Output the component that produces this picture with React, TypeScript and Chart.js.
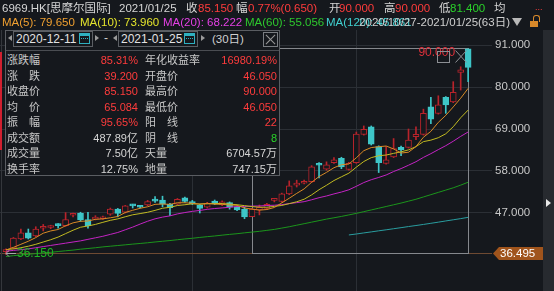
import React, { useEffect, useRef } from 'react';
import { Chart, registerables } from 'chart.js';
Chart.register(...registerables);

// ---------- data ----------
const DATES = [
  '2020-10-27', '2020-10-28', '2020-10-29', '2020-10-30',
  '2020-11-02', '2020-11-03', '2020-11-04', '2020-11-05', '2020-11-06',
  '2020-11-09', '2020-11-10', '2020-11-11', '2020-11-12', '2020-11-13',
  '2020-11-16', '2020-11-17', '2020-11-18', '2020-11-19', '2020-11-20',
  '2020-11-23', '2020-11-24', '2020-11-25', '2020-11-26', '2020-11-27',
  '2020-11-30',
  '2020-12-01', '2020-12-02', '2020-12-03', '2020-12-04',
  '2020-12-07', '2020-12-08', '2020-12-09', '2020-12-10', '2020-12-11',
  '2020-12-14', '2020-12-15', '2020-12-16', '2020-12-17', '2020-12-18',
  '2020-12-21', '2020-12-22', '2020-12-23', '2020-12-24',
  '2020-12-28', '2020-12-29', '2020-12-30', '2020-12-31',
  '2021-01-04', '2021-01-05', '2021-01-06', '2021-01-07', '2021-01-08',
  '2021-01-11', '2021-01-12', '2021-01-13', '2021-01-14', '2021-01-15',
  '2021-01-18', '2021-01-19', '2021-01-20', '2021-01-21', '2021-01-22',
  '2021-01-25',
];

const OPEN = [36.9, 37.8, 40.2, 41.8, 41.0, 43.0, 43.2, 44.0, 43.7, 46.4,
  47.0, 45.3, 45.4, 45.5, 46.7, 48.0, 47.2, 48.95, 48.7, 49.1,
  50.6, 50.4, 49.3, 49.3, 51.0, 50.0, 49.1, 48.5, 50.1, 49.1,
  49.7, 48.6, 48.0, 46.05, 47.8, 48.2, 50.3, 50.0, 52.0, 54.3,
  54.8, 55.2, 59.7, 58.5, 60.2, 61.3, 58.4, 60.2, 67.6, 69.6,
  64.4, 60.0, 61.7, 64.2, 64.2, 67.0, 67.6, 74.8, 73.1, 77.3,
  76.1, 83.8, 90.0];
const CLOSE = [37.4, 40.4, 41.8, 40.4, 42.8, 43.15, 43.35, 43.7, 45.3, 46.6,
  45.2, 43.7, 45.9, 45.9, 48.0, 46.9, 48.9, 48.85, 48.5, 50.0,
  50.1, 49.3, 48.4, 50.6, 50.0, 49.4, 48.2, 49.5, 49.4, 49.9,
  48.5, 47.8, 45.95, 48.0, 48.5, 49.3, 50.45, 52.0, 54.1, 54.8,
  55.2, 59.1, 59.5, 59.6, 60.9, 59.1, 60.0, 67.7, 68.9, 65.0,
  60.2, 60.9, 63.9, 63.5, 66.1, 67.6, 73.1, 71.6, 75.3, 75.3,
  78.6, 84.5, 85.15];
const HIGH = [37.6, 40.6, 42.8, 42.8, 43.4, 44.0, 43.8, 44.2, 47.1, 47.0,
  47.2, 47.2, 46.3, 46.2, 48.3, 48.2, 49.0, 49.3, 49.0, 50.3,
  51.3, 51.4, 49.5, 50.8, 51.2, 50.3, 49.3, 49.8, 50.4, 50.2,
  49.9, 48.8, 48.5, 48.2, 49.1, 49.5, 50.8, 52.2, 55.4, 55.6,
  55.6, 59.4, 60.2, 60.4, 61.5, 61.6, 60.3, 68.2, 69.8, 69.8,
  64.6, 64.4, 66.5, 64.5, 69.0, 69.6, 74.2, 77.3, 77.7, 77.5,
  81.4, 85.3, 90.0];
const LOW = [36.15, 37.6, 40.0, 40.2, 40.8, 42.3, 42.9, 43.0, 43.5, 46.0,
  44.8, 43.0, 45.2, 45.3, 46.4, 46.0, 47.0, 48.3, 48.3, 48.9,
  49.8, 48.6, 46.3, 49.1, 49.8, 49.2, 47.0, 48.3, 49.2, 48.9,
  48.0, 47.6, 45.5, 46.05, 46.5, 48.0, 49.9, 49.8, 51.8, 53.8,
  54.6, 55.0, 56.2, 58.2, 60.0, 58.6, 58.2, 60.0, 67.4, 64.8,
  57.6, 59.8, 61.5, 62.0, 64.0, 66.2, 67.4, 70.4, 72.9, 73.1,
  75.9, 79.2, 81.4];

const MA5 = [37.3, 38.0, 38.8, 39.6, 40.56, 41.71, 42.3, 42.68, 43.66, 44.42,
  44.83, 44.9, 45.34, 45.46, 45.74, 46.08, 47.12, 47.71, 48.23, 48.63,
  49.27, 49.35, 49.26, 49.68, 49.68, 49.54, 49.32, 49.54, 49.3, 49.28,
  49.1, 49.02, 48.31, 48.03, 47.75, 47.91, 48.44, 49.65, 50.87, 52.13,
  53.31, 55.04, 56.54, 57.64, 58.86, 59.64, 59.82, 61.46, 63.32, 64.14,
  64.36, 64.54, 63.78, 62.7, 62.92, 64.4, 66.84, 68.38, 70.74, 72.58,
  74.78, 77.06, 79.65];
const MA10 = [37.4, 37.6, 37.9, 38.3, 38.8, 39.4, 40.0, 40.7, 41.6, 42.49,
  43.27, 43.6, 44.01, 44.56, 45.08, 45.46, 46.01, 46.53, 46.85, 47.19,
  47.68, 48.24, 48.49, 48.96, 49.16, 49.41, 49.34, 49.4, 49.49, 49.48,
  49.32, 49.17, 48.93, 48.67, 48.52, 48.51, 48.73, 48.98, 49.45, 49.94,
  50.61, 51.74, 53.1, 54.26, 55.5, 56.48, 57.43, 59.0, 60.48, 61.5,
  62.0, 62.18, 62.62, 63.01, 63.53, 64.38, 65.69, 66.08, 66.72, 67.75,
  69.59, 71.95, 73.96];
const MA20 = [37.0, 37.2, 37.4, 37.6, 37.9, 38.2, 38.5, 38.8, 39.1, 39.4,
  39.7, 40.1, 40.5, 40.9, 41.4, 41.9, 42.6, 43.3, 44.1, 44.84,
  45.47, 45.92, 46.25, 46.76, 47.12, 47.43, 47.67, 47.96, 48.17, 48.33,
  48.5, 48.7, 48.71, 48.81, 48.84, 48.96, 49.03, 49.19, 49.47, 49.71,
  49.97, 50.46, 51.01, 51.46, 52.0, 52.49, 53.08, 53.99, 54.97, 55.72,
  56.31, 56.96, 57.86, 58.63, 59.51, 60.43, 61.56, 62.54, 63.6, 64.63,
  65.8, 67.07, 68.22];
const MA60 = [35.6, 35.82, 36.0, 36.18, 36.35, 36.52, 36.7, 36.91, 37.1, 37.28,
  37.52, 37.7, 37.9, 38.12, 38.3, 38.48, 38.66, 38.85, 39.02, 39.2,
  39.41, 39.6, 39.78, 40.0, 40.2, 40.38, 40.6, 40.8, 40.98, 41.2,
  41.4, 41.58, 41.8, 42.0, 42.2, 42.45, 42.7, 43.05, 43.4, 43.8,
  44.2, 44.6, 45.0, 45.4, 45.75, 46.1, 46.5, 46.9, 47.35, 47.8,
  48.25, 48.7, 49.15, 49.6, 50.1, 50.6, 51.2, 51.8, 52.4, 53.0,
  53.6, 54.3, 55.06];
const MA120_START = '2020-12-31';
const MA120 = [41.25, 41.5, 41.78, 42.05, 42.33, 42.6, 42.88, 43.16, 43.45,
  43.72, 44.0, 44.3, 44.6, 44.92, 45.22, 45.53, 45.86];

const Y_TICKS = [47, 58, 69, 80, 91];
const MONTH_STARTS = ['2020-12-01', '2021-01-04'];
const REF_PRICE = 36.495;
const RANGE_START = '2020-12-11';
const RANGE_END = '2021-01-25';

// ---------- styles ----------
const BG = '#15181d';
const GRID = '#2b2f35';
const UP = '#b8232b';
const DOWN = '#3ec6c8';
const TXT = '#d6d6d6';
const RED = '#ff3c3c';
const GREEN = '#2ad22a';
const FONT = '"Liberation Sans", "Noto Sans CJK SC", sans-serif';

const STATS: [string, string, string, string, string, string][] = [
  ['涨跌幅', '85.31%', RED, '年化收益率', '16980.19%', RED],
  ['涨\u3000跌', '39.200', RED, '开盘价', '46.050', RED],
  ['收盘价', '85.150', RED, '最高价', '90.000', RED],
  ['均\u3000价', '65.084', RED, '最低价', '46.050', RED],
  ['振\u3000幅', '95.65%', RED, '阳\u3000线', '22', RED],
  ['成交额', '487.89亿', TXT, '阴\u3000线', '8', GREEN],
  ['成交量', '7.50亿', TXT, '天量', '6704.57万', TXT],
  ['换手率', '12.75%', TXT, '地量', '747.15万', TXT],
];

function T(p: { x: number; y: number; c: string; s?: number; r?: boolean; children: any }) {
  const size = p.s ?? 11.5;
  const st: any = {
    position: 'absolute', top: p.y - 8, height: 16, lineHeight: '16px',
    fontSize: size, color: p.c, whiteSpace: 'pre', fontFamily: FONT,
  };
  if (p.r) { st.left = p.x - 200; st.width = 200; st.textAlign = 'right'; } else st.left = p.x;
  return <div style={st}>{p.children}</div>;
}

const overlayPlugin = {
  id: 'overlay',
  beforeDatasetsDraw(chart: any) {
    const { ctx, chartArea, scales } = chart;
    const x = scales.x, y = scales.y;
    const yRef = Math.round(y.getPixelForValue(REF_PRICE)) + 0.5;
    ctx.save();
    ctx.lineWidth = 1;
    ctx.strokeStyle = '#6e4a32';
    ctx.beginPath();
    ctx.moveTo(chartArea.left, yRef);
    ctx.lineTo(chartArea.right, yRef);
    ctx.stroke();
    const i0 = DATES.indexOf(RANGE_START), i1 = DATES.indexOf(RANGE_END);
    const hi = Math.max(...HIGH.slice(i0, i1 + 1));
    const bx0 = Math.round(x.getPixelForValue(i0)) + 0.5;
    const bx1 = Math.round(x.getPixelForValue(i1)) + 0.5;
    const by0 = Math.round(y.getPixelForValue(hi)) - 0.5;
    ctx.strokeStyle = '#85888d';
    ctx.strokeRect(bx0, by0, bx1 - bx0, yRef - by0);
    ctx.restore();
  },
  afterDatasetsDraw(chart: any) {
    const { ctx, scales } = chart;
    const x = scales.x, y = scales.y;
    ctx.save();
    // lowest point marker
    let li = 0;
    LOW.forEach((v, i) => { if (v < LOW[li]) li = i; });
    const lx = x.getPixelForValue(li), ly = Math.round(y.getPixelForValue(LOW[li])) - 0.5;
    ctx.strokeStyle = '#a8a8a8';
    ctx.lineWidth = 1;
    ctx.beginPath();
    ctx.moveTo(lx, ly); ctx.lineTo(lx + 10, ly);
    ctx.moveTo(lx + 3, ly - 3); ctx.lineTo(lx, ly); ctx.lineTo(lx + 3, ly + 3);
    ctx.stroke();
    ctx.font = '12px ' + FONT;
    ctx.fillStyle = '#20b424';
    ctx.textBaseline = 'middle';
    ctx.textAlign = 'left';
    ctx.fillText(LOW[li].toFixed(3), lx + 11, ly);
    // highest point marker
    let hiI = 0;
    HIGH.forEach((v, i) => { if (v > HIGH[hiI]) hiI = i; });
    const hx = x.getPixelForValue(hiI), hy = y.getPixelForValue(HIGH[hiI]);
    ctx.fillStyle = '#e0303a';
    ctx.textAlign = 'right';
    ctx.fillText(HIGH[hiI].toFixed(3), hx - 13, hy + 4);
    // selection box controls
    const i1 = DATES.indexOf(RANGE_END);
    const bx1 = Math.round(x.getPixelForValue(i1)) + 0.5;
    const i0 = DATES.indexOf(RANGE_START);
    const top = Math.round(y.getPixelForValue(Math.max(...HIGH.slice(i0, i1 + 1)))) - 0.5;
    ctx.strokeStyle = '#8c8f94';
    ctx.strokeRect(bx1 - 31, top + 3, 12, 11);
    ctx.beginPath();
    ctx.moveTo(bx1 - 13, top + 2); ctx.lineTo(bx1 - 2, top + 14);
    ctx.moveTo(bx1 - 2, top + 2); ctx.lineTo(bx1 - 13, top + 14);
    ctx.stroke();
    ctx.restore();
  },
  afterDraw(chart: any) {
    const { ctx, chartArea, scales } = chart;
    const yRef = Math.round(scales.y.getPixelForValue(REF_PRICE)) + 0.5;
    const l = chartArea.right + 1;
    ctx.save();
    ctx.fillStyle = '#a0541c';
    ctx.beginPath();
    ctx.moveTo(l, yRef);
    ctx.lineTo(l + 6, yRef - 6.5);
    ctx.lineTo(l + 50, yRef - 6.5);
    ctx.lineTo(l + 50, yRef + 6.5);
    ctx.lineTo(l + 6, yRef + 6.5);
    ctx.closePath();
    ctx.fill();
    ctx.fillStyle = '#ffffff';
    ctx.font = '11.5px ' + FONT;
    ctx.textBaseline = 'middle';
    ctx.fillText(REF_PRICE.toFixed(3), l + 7, yRef);
    ctx.restore();
  },
};

export default function App() {
  const ref = useRef<HTMLCanvasElement>(null);
  useEffect(() => {
    const up = (i: number) => CLOSE[i] >= OPEN[i];
    const maStart = DATES.indexOf(MA120_START);
    const line = (vals: number[], color: string, start = 0) => ({
      type: 'line' as const,
      data: vals.map((v, k) => ({ x: k + start, y: v })),
      borderColor: color,
      borderWidth: 1,
      pointRadius: 0,
      tension: 0,
      order: 0,
    });
    const chart = new Chart(ref.current!, {
      type: 'bar',
      data: {
        datasets: [
          {
            type: 'bar',
            data: DATES.map((_, i) => ({ x: i, y: [LOW[i], HIGH[i]] })) as any,
            backgroundColor: DATES.map((_, i) => (up(i) ? UP : DOWN)),
            barThickness: 1,
            grouped: false,
            borderWidth: 0,
            order: 2,
          },
          {
            type: 'bar',
            data: DATES.map((_, i) => ({ x: i, y: [OPEN[i], CLOSE[i]] })) as any,
            backgroundColor: DATES.map((_, i) => (up(i) ? BG : DOWN)),
            borderColor: DATES.map((_, i) => (up(i) ? UP : DOWN)),
            borderWidth: 1,
            borderSkipped: false,
            barThickness: 6,
            minBarLength: 2,
            grouped: false,
            order: 1,
          },
          line(MA5, '#d98a26') as any,
          line(MA10, '#c2bb22') as any,
          line(MA20, '#c424c4') as any,
          line(MA60, '#1c961c') as any,
          line(MA120, '#2a9ea0', maStart) as any,
        ],
      },
      options: {
        animation: false,
        responsive: false,
        devicePixelRatio: 1,
        events: [],
        layout: { padding: { top: 30, left: 0, right: 0, bottom: 0 } },
        plugins: { legend: { display: false }, tooltip: { enabled: false } },
        scales: {
          x: {
            type: 'linear',
            min: -0.8,
            max: 65.2,
            offset: false,
            grid: { color: GRID, drawTicks: false, offset: false },
            border: { display: false },
            ticks: { display: false },
            afterBuildTicks: (s: any) => {
              s.ticks = MONTH_STARTS.map((d) => ({ value: DATES.indexOf(d) }));
            },
            afterFit: (s: any) => { s.height = 0; s.paddingLeft = 0; s.paddingRight = 0; },
          },
          y: {
            position: 'right',
            min: 26.57,
            max: 94.93,
            grid: { color: GRID, drawTicks: false },
            border: { display: false },
            ticks: {
              color: '#c8c8c8',
              font: { family: FONT, size: 11.5 },
              padding: 3,
              callback: (v: any) => Number(v).toFixed(3),
            },
            afterBuildTicks: (s: any) => { s.ticks = Y_TICKS.map((v) => ({ value: v })); },
            afterFit: (s: any) => { s.width = 62; s.paddingTop = 0; s.paddingBottom = 0; },
          },
        },
      } as any,
      plugins: [overlayPlugin],
    });
    return () => chart.destroy();
  }, []);

  const tri = (x: number, y: number, dir: 'l' | 'r', c = '#9a9a9a') => (
    <div style={{
      position: 'absolute', left: x, top: y, width: 0, height: 0,
      borderTop: '3.5px solid transparent', borderBottom: '3.5px solid transparent',
      ...(dir === 'l' ? { borderRight: '4px solid ' + c } : { borderLeft: '4px solid ' + c }),
    }} />
  );
  const cal = (x: number) => (
    <div style={{ position: 'absolute', left: x, top: 33, width: 9, height: 9, border: '1px solid #2fb0c0' }}>
      <div style={{ position: 'absolute', left: 0, top: 0, width: 9, height: 2, background: '#2fb0c0' }} />
      <div style={{ position: 'absolute', left: 1, top: 4, width: 7, height: 4, borderTop: '1px dotted #2fb0c0', borderBottom: '1px dotted #2fb0c0' }} />
    </div>
  );
  const dateBox = (x: number, text: string) => (
    <>
      <div style={{ position: 'absolute', left: x, top: 31, width: 78, height: 14, border: '1px solid #5c5f64' }} />
      <T x={x + 3} y={38.5} c="#e2e2e2" s={12}>{text}</T>
      {cal(x + 66)}
    </>
  );

  return (
    <div style={{ position: 'fixed', left: 0, top: 0, width: 554, height: 291, background: BG, overflow: 'hidden', fontFamily: FONT }}>
      <canvas ref={ref} width={554} height={291} style={{ position: 'absolute', left: 0, top: 0, width: 554, height: 291 }} />
      <div style={{ position: 'absolute', left: 1, top: 30, width: 1, height: 261, background: '#34373c' }} />
      <div style={{ position: 'absolute', left: 0, top: 52, width: 2, height: 98, background: '#d02030' }} />
      {/* scrollbar */}
      <div style={{ position: 'absolute', left: 543, top: 30, width: 11, height: 261, background: '#272a2f' }} />
      <div style={{ position: 'absolute', left: 546, top: 199, width: 0, height: 0, borderTop: '4px solid transparent', borderBottom: '4px solid transparent', borderLeft: '5px solid #e8e8e8' }} />

      {/* header row 1 */}
      <T x={2} y={8} c={TXT}>6969.HK[思摩尔国际]</T>
      <T x={119} y={8} c={TXT}>2021/01/25</T>
      <T x={186} y={8} c={TXT}>收</T>
      <T x={198} y={8} c={RED}>85.150</T>
      <T x={236} y={8} c={TXT}>幅</T>
      <T x={248} y={8} c={RED}>0.77%(0.650)</T>
      <T x={329} y={8} c={TXT}>开</T>
      <T x={339} y={8} c={RED}>90.000</T>
      <T x={384} y={8} c={TXT}>高</T>
      <T x={395} y={8} c={RED}>90.000</T>
      <T x={439} y={8} c={TXT}>低</T>
      <T x={450} y={8} c={GREEN}>81.400</T>
      <T x={494} y={8} c={TXT}>均</T>
      <T x={535} y={7} c={RED} s={9}>...</T>

      {/* header row 2 */}
      <T x={2} y={22} c="#f0a030">MA(5): 79.650</T>
      <T x={80} y={22} c="#e4e42c">MA(10): 73.960</T>
      <T x={163} y={22} c="#e440e4">MA(20): 68.222</T>
      <T x={245} y={22} c="#2ec82e">MA(60): 55.056</T>
      <T x={326} y={22} c="#40d0d0">MA(120): 45.861</T>
      <T x={510} y={22} c="#cfcfcf" r>2020/10/27-2021/01/25(63日)</T>
      <div style={{ position: 'absolute', left: 512, top: 18, width: 0, height: 0, borderLeft: '5px solid transparent', borderRight: '5px solid transparent', borderTop: '8px solid #b8b8b8' }} />
      <div style={{ position: 'absolute', left: 530, top: 21, width: 8, height: 6, background: '#d8892a' }} />
      <div style={{ position: 'absolute', left: 533, top: 15, width: 5, height: 6, border: '1.5px solid #d8892a', borderBottom: 'none', borderRadius: '3px 3px 0 0' }} />

      {/* statistics panel */}
      <div style={{ position: 'absolute', left: 5, top: 30, width: 273, height: 144, background: BG, border: '1px solid #5a5d62' }} />
      <div style={{ position: 'absolute', left: 6, top: 50, width: 273, height: 1, background: '#4a4d52' }} />
      {tri(8, 35, 'l')}
      {dateBox(13, '2020-12-11')}
      {tri(95, 35, 'r')}
      <T x={104} y={38} c="#d0d0d0" s={12}>-</T>
      {tri(113, 35, 'l')}
      {dateBox(118, '2021-01-25')}
      {tri(201, 35, 'r')}
      <T x={212} y={38.5} c="#d0d0d0" s={11.5}>(30日)</T>
      <div style={{ position: 'absolute', left: 263, top: 32, width: 13, height: 13, border: '1px solid #7a7d82' }}>
        <div style={{ position: 'absolute', left: 0, top: 6, width: 13, height: 1, background: '#9a9a9a', transform: 'rotate(45deg)' }} />
        <div style={{ position: 'absolute', left: 0, top: 6, width: 13, height: 1, background: '#9a9a9a', transform: 'rotate(-45deg)' }} />
      </div>
      {STATS.map((r, k) => {
        const y = 60 + 15.5 * k;
        return (
          <React.Fragment key={k}>
            <T x={7} y={y} c="#c8c8c8" s={11}>{r[0]}</T>
            <T x={138} y={y} c={r[2]} s={11} r>{r[1]}</T>
            <T x={145} y={y} c="#c8c8c8" s={11}>{r[3]}</T>
            <T x={277} y={y} c={r[5]} s={11} r>{r[4]}</T>
          </React.Fragment>
        );
      })}
    </div>
  );
}
